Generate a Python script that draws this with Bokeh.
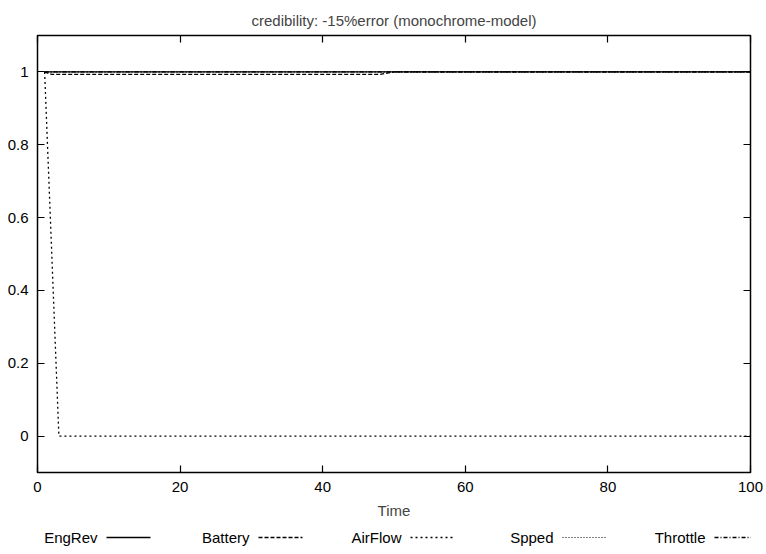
from bokeh.plotting import figure
from bokeh.models import FixedTicker, LinearAxis, Range1d
from bokeh.layouts import column
from bokeh.core.properties import value
from bokeh.embed import file_html
from bokeh.resources import INLINE

# ---- data ----
time = [1, 2, 3, 48, 50, 100]
engrev = [1, 1, 1, 1, 1, 1]
battery = [1, 0.993, 0.993, 0.993, 1, 1]
airflow = [1, 0.5, 0, 0, 0, 0]
spped = [1, 1, 1, 1, 1, 1]
throttle = [1, 1, 1, 1, 1, 1]

series_names = ["EngRev", "Battery", "AirFlow", "Spped", "Throttle"]
series_values = [engrev, battery, airflow, spped, throttle]
series_dash = ["solid", "4 2", "2 3", "1 2", "4 2 1 2"]
series_width = [1.3, 1.3, 1.3, 1.0, 1.3]

x_ticks = [0, 20, 40, 60, 80, 100]
y_ticks = [0, 0.2, 0.4, 0.6, 0.8, 1]
y_tick_labels = ["0", "0.2", "0.4", "0.6", "0.8", "1"]

FONT = "Liberation Sans"
FS = "15px"
FRAME_L, FRAME_R = 37, 750

p = figure(width=766, height=522, output_backend="svg", toolbar_location=None,
           x_range=Range1d(0, 100), y_range=Range1d(-0.1, 1.1),
           title="credibility: -15%error (monochrome-model)",
           min_border_left=FRAME_L, min_border_right=766 - FRAME_R, min_border_top=35,
           min_border_bottom=50, x_axis_label="Time")
p.title.align = "center"
p.title.text_font = FONT
p.title.text_font_size = FS
p.title.text_font_style = "normal"
p.title.standoff = 14
p.grid.visible = False
p.outline_line_color = "black"
p.outline_line_width = 1.5
p.background_fill_color = "white"

overrides = {t: l for t, l in zip(y_ticks, y_tick_labels)}

def style_axis(ax, labels=True):
    ax.axis_line_color = None
    ax.major_tick_in = 7
    ax.major_tick_out = 0
    ax.minor_tick_line_color = None
    ax.major_tick_line_color = "black"
    ax.major_tick_line_width = 1.2
    ax.major_label_text_font = FONT
    ax.major_label_text_font_size = FS if labels else "1px"
    ax.major_label_text_color = "black"
    ax.axis_label_text_font = FONT
    ax.axis_label_text_font_size = FS
    ax.axis_label_text_font_style = "normal"

xb = p.xaxis[0]
xb.ticker = FixedTicker(ticks=x_ticks)
style_axis(xb)
xb.major_label_standoff = 9
xb.axis_label_standoff = 7

yl = p.yaxis[0]
yl.ticker = FixedTicker(ticks=y_ticks)
yl.major_label_overrides = overrides
style_axis(yl)
yl.major_label_standoff = 9

top = LinearAxis(ticker=FixedTicker(ticks=x_ticks))
style_axis(top, labels=False)
top.major_label_overrides = {t: "" for t in x_ticks}
top.major_label_standoff = 0
p.add_layout(top, "above")

right = LinearAxis(ticker=FixedTicker(ticks=y_ticks))
style_axis(right, labels=False)
right.major_label_overrides = {t: "" for t in y_ticks}
right.major_label_standoff = 0
p.add_layout(right, "right")

for name, vals, dash, w in zip(series_names, series_values, series_dash, series_width):
    p.line(time, vals, line_color="black", line_width=w, line_dash=dash)

# ---- legend strip (gnuplot style: label then sample) ----
# the column aligns this strip's frame with the main frame, so map page pixels
lg = figure(width=766, height=32, output_backend="svg", toolbar_location=None,
            x_range=Range1d(FRAME_L, FRAME_R), y_range=Range1d(0, 32),
            x_axis_type=None, y_axis_type=None,
            min_border_left=FRAME_L, min_border_right=766 - FRAME_R,
            min_border_top=0, min_border_bottom=0)
lg.grid.visible = False
lg.outline_line_color = None

spacing = 152
for i, (name, dash, w) in enumerate(zip(series_names, series_dash, series_width)):
    x0 = 106 + spacing * i
    x1 = 150 + spacing * i
    lg.text([x0 - 9], [17], text=[name], text_align="right", text_baseline="middle",
            text_font=value(FONT), text_font_size=FS, text_color="black")
    lg.line([x0, x1], [17, 17], line_color="black", line_width=w, line_dash=dash)

layout = column(p, lg, spacing=0)
open("out.html", "w").write(file_html(layout, INLINE))
